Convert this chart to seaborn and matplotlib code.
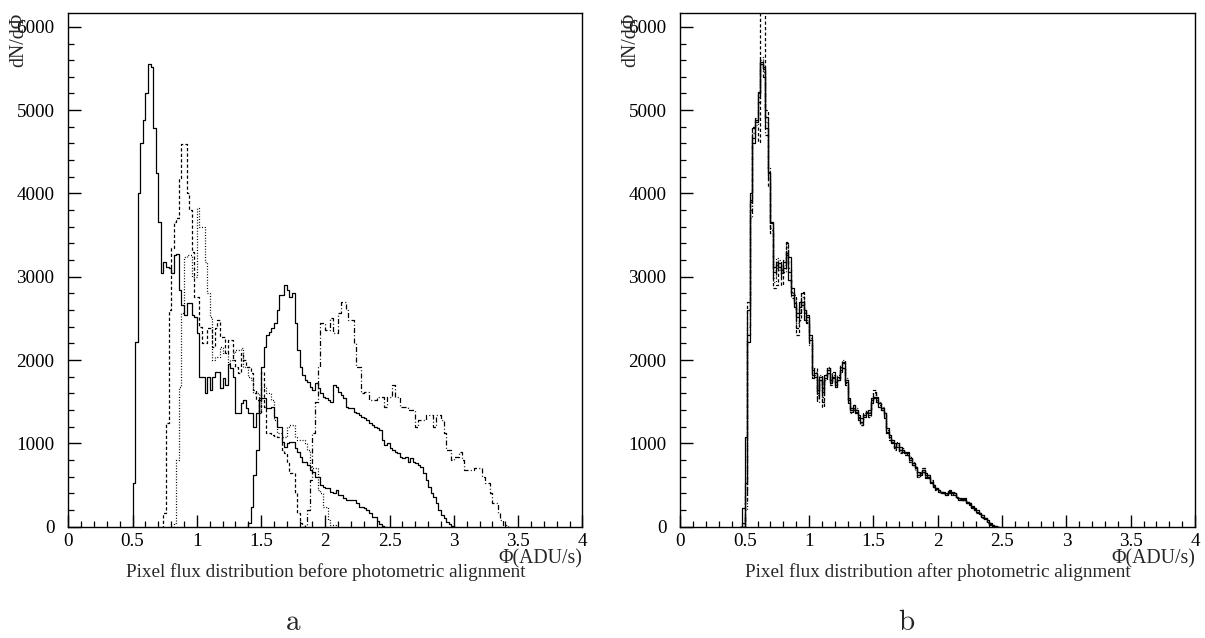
import numpy as np
import pandas as pd
import matplotlib
matplotlib.use("Agg")
import matplotlib.pyplot as plt
import seaborn as sns
from matplotlib.ticker import MultipleLocator

# --- binning (ROOT-style histograms, 0.02 ADU/s per bin) ---
bin_width = 0.02

# panel a: before photometric alignment
a_solid1_start = 0.48
a_solid1 = [0, 530, 2220, 4000, 4600, 4880, 5200, 5560, 5520, 4780, 4240,
            3660, 3040, 3180, 3120, 3100, 3050, 3260, 3270, 2840, 2660,
            2540, 2680, 2680, 2540, 2520, 2320, 1800, 1800, 1600, 1800,
            1640, 1800, 1860, 1860, 1660, 1780, 1700, 1950, 1900, 1800,
            1360, 1360, 1480, 1520, 1420, 1360, 1360, 1200, 1360, 1540,
            1540, 1540, 1420, 1420, 1440, 1320, 1200, 1200, 1020, 960,
            1000, 1020, 1020, 940, 900, 840, 780, 780, 740, 680,
            660, 600, 600, 500, 480, 460, 460, 420, 400, 440,
            380, 380, 340, 320, 320, 320, 320, 280, 240, 240,
            220, 200, 160, 120, 120, 70, 30, 10, 0]

a_dashed_start = 0.72
a_dashed = [0, 160, 1240, 2600, 3340, 3660, 3700, 4180, 4590, 4590, 4000,
            3800, 3300, 2760, 2760, 2400, 2200, 2200, 2380, 2380, 2160,
            2380, 2480, 2280, 2280, 2080, 2240, 2240, 2000, 1920, 1840,
            2080, 2000, 1920, 1920, 1840, 1640, 1520, 1360, 1860, 1440,
            1120, 1120, 1100, 1090, 1080, 1080, 920, 880, 760, 640,
            640, 400, 160, 40, 0]

a_dotted_start = 0.80
a_dotted = [0, 40, 800, 1680, 2560, 3240, 3260, 3260, 3000, 3000, 3820,
            3600, 3600, 3180, 2800, 2520, 2000, 2040, 2040, 2160, 2080,
            2080, 1960, 2000, 2080, 2120, 2120, 2140, 1920, 1920, 1800,
            1760, 1600, 1600, 1360, 1680, 1680, 1600, 1600, 1520, 1280,
            1120, 1120, 1080, 1080, 1200, 1220, 1220, 1080, 1040, 1040,
            1040, 1000, 920, 720, 700, 700, 440, 400, 240, 240,
            80, 20, 20, 0]

a_solid2_start = 1.38
a_solid2 = [0, 40, 240, 620, 920, 1520, 1920, 2160, 2300, 2340, 2380,
            2440, 2600, 2780, 2780, 2900, 2840, 2760, 2800, 2440, 2120,
            1920, 1820, 1760, 1740, 1680, 1640, 1720, 1660, 1600, 1560,
            1540, 1520, 1500, 1700, 1680, 1620, 1580, 1540, 1440, 1420,
            1420, 1380, 1360, 1340, 1320, 1300, 1280, 1240, 1220, 1200,
            1180, 1160, 1040, 980, 1000, 940, 920, 900, 880, 840,
            820, 840, 780, 820, 780, 760, 740, 720, 640, 560,
            480, 400, 360, 280, 200, 140, 100, 60, 30, 10, 0]

a_dashdot_start = 1.82
a_dashdot = [0, 20, 200, 560, 1120, 1500, 1920, 2440, 2440, 2360, 2360,
             2500, 2320, 2320, 2560, 2700, 2700, 2600, 2480, 2480, 2200,
             1920, 1920, 1600, 1620, 1620, 1520, 1520, 1520, 1560, 1560,
             1560, 1440, 1560, 1560, 1700, 1560, 1560, 1440, 1440, 1440,
             1400, 1400, 1400, 1200, 1280, 1280, 1280, 1340, 1340, 1340,
             1200, 1340, 1340, 1280, 1120, 920, 920, 800, 840, 840,
             900, 800, 680, 680, 680, 680, 700, 700, 700, 600,
             520, 520, 400, 280, 280, 160, 80, 20, 20, 0]

# panel b: after photometric alignment (all start at 0.46)
b_start = 0.46
b_solid1 = [0, 40, 520, 2220, 3920, 4660, 4860, 5200, 5580, 5520, 4920,
            4260, 3660, 3120, 3180, 3120, 3040, 3180, 3260, 2960, 2780,
            2680, 2560, 2640, 2700, 2600, 2520, 2240, 1880, 1840, 1600,
            1800, 1620, 1780, 1880, 1760, 1800, 1680, 1800, 1880, 1960,
            1760, 1540, 1400, 1420, 1380, 1320, 1260, 1340, 1380, 1360,
            1480, 1540, 1540, 1480, 1420, 1360, 1180, 1080, 1000, 960,
            1000, 920, 900, 880, 880, 820, 760, 700, 620, 640,
            680, 620, 600, 540, 500, 460, 420, 420, 400, 400,
            420, 400, 400, 360, 320, 340, 320, 300, 280, 240,
            200, 180, 160, 120, 100, 60, 30, 15, 5, 0]
b_solid2 = [0, 220, 1080, 2600, 4000, 4600, 4880, 5220, 5560, 5500, 4780,
            4240, 3640, 3060, 3140, 3160, 3080, 3100, 3280, 3240, 2860,
            2640, 2520, 2700, 2660, 2480, 2540, 2300, 1820, 1800, 1640,
            1760, 1660, 1820, 1840, 1720, 1780, 1740, 1760, 1920, 1900,
            1740, 1480, 1420, 1460, 1360, 1340, 1300, 1320, 1360, 1400,
            1520, 1560, 1500, 1440, 1400, 1300, 1120, 1100, 1040, 1000,
            960, 960, 920, 900, 860, 800, 740, 720, 660, 620,
            660, 640, 580, 520, 480, 460, 440, 420, 420, 380,
            400, 420, 380, 360, 340, 320, 330, 300, 260, 250,
            220, 200, 170, 140, 110, 80, 50, 25, 10, 0]
b_dashed = [0, 0, 300, 2700, 3900, 4800, 4800, 4620, 6600, 6500, 5000,
            4080, 3520, 2860, 2900, 3120, 2900, 3200, 3420, 3100, 2820,
            2780, 2300, 2480, 2820, 2560, 2440, 2200, 1820, 1900, 1540,
            1760, 1440, 1820, 1900, 1700, 1860, 1720, 1780, 1940, 1980,
            1700, 1520, 1380, 1460, 1400, 1300, 1220, 1360, 1400, 1320,
            1540, 1640, 1560, 1460, 1400, 1340, 1140, 1040, 1020, 920,
            1000, 880, 940, 860, 900, 780, 740, 720, 600, 660,
            700, 580, 620, 560, 480, 440, 440, 400, 420, 380,
            440, 380, 420, 340, 340, 320, 340, 280, 290, 230,
            210, 170, 170, 110, 110, 50, 40, 10, 0, 0]
b_dotted = [0, 0, 200, 2400, 3800, 4720, 4820, 5160, 5640, 5460, 4860,
            4300, 3580, 2940, 3220, 3080, 3140, 3060, 3360, 3180, 2800,
            2720, 2440, 2600, 2760, 2580, 2480, 2260, 1840, 1860, 1580,
            1820, 1560, 1760, 1920, 1740, 1820, 1700, 1820, 1900, 2000,
            1780, 1500, 1420, 1400, 1420, 1300, 1240, 1360, 1360, 1380,
            1500, 1600, 1520, 1500, 1440, 1380, 1160, 1060, 1040, 940,
            1020, 900, 920, 900, 860, 840, 780, 680, 640, 620,
            700, 600, 600, 540, 500, 450, 430, 410, 410, 390,
            430, 390, 410, 350, 330, 330, 320, 290, 280, 230,
            210, 180, 150, 120, 90, 60, 30, 10, 0, 0]
b_dashdot = [0, 0, 400, 2300, 3700, 4780, 4900, 5100, 5600, 5400, 4700,
             4180, 3560, 2980, 3100, 3200, 3000, 3140, 3400, 3060, 2740,
             2700, 2380, 2560, 2800, 2600, 2460, 2180, 1780, 1820, 1500,
             1760, 1500, 1800, 1900, 1720, 1840, 1700, 1760, 1860, 1980,
             1720, 1520, 1360, 1440, 1400, 1280, 1220, 1340, 1380, 1340,
             1520, 1620, 1540, 1480, 1420, 1360, 1140, 1060, 1020, 960,
             980, 920, 900, 880, 880, 820, 760, 700, 600, 640,
             680, 600, 620, 540, 490, 450, 420, 420, 400, 390,
             430, 400, 400, 350, 330, 330, 320, 290, 270, 240,
             200, 180, 150, 120, 90, 50, 25, 10, 0, 0]

x_ticks = [0, 0.5, 1, 1.5, 2, 2.5, 3, 3.5, 4]
x_tick_labels = ["0", "0.5", "1", "1.5", "2", "2.5", "3", "3.5", "4"]
y_ticks = [0, 1000, 2000, 3000, 4000, 5000, 6000]
y_tick_labels = ["0", "1000", "2000", "3000", "4000", "5000", "6000"]

captions = ["Pixel flux distribution before photometric alignment",
            "Pixel flux distribution after photometric alignment"]
panel_tags = ["a", "b"]

sns.set_style("white")
plt.rcParams["font.family"] = ["Liberation Serif", "DejaVu Serif"]
plt.rcParams["mathtext.fontset"] = "cm"

SOLID = "-"
DASHED = (0, (2.6, 1.8))
DOTTED = (0, (0.8, 1.4))
DASHDOT = (0, (4, 1.8, 0.8, 1.8))


def draw_hist(ax, start, values, ls, lw=0.9):
    values = np.asarray(values, dtype=float)
    edges = start + bin_width * np.arange(len(values) + 1)
    centers = 0.5 * (edges[:-1] + edges[1:])
    df = pd.DataFrame({"phi": centers, "n": values})
    # bins as a plain list: seaborn compares bins to "auto" when weights are used
    sns.histplot(data=df, x="phi", weights="n", bins=edges.tolist(),
                 element="step", fill=False, color="black", linewidth=lw,
                 linestyle=ls, ax=ax)


def style_axes(ax, caption):
    ax.set_xlim(0, 4)
    ax.set_ylim(0, 6170)
    ax.set_xticks(x_ticks, x_tick_labels)
    ax.set_yticks(y_ticks, y_tick_labels)
    ax.xaxis.set_minor_locator(MultipleLocator(0.1))
    ax.yaxis.set_minor_locator(MultipleLocator(200))
    ax.tick_params(which="both", direction="in", top=False, right=False,
                   left=True, bottom=True, colors="black", labelsize=13.8)
    ax.tick_params(which="major", length=9, width=1.0)
    ax.tick_params(which="minor", length=4.5, width=0.9)
    ax.tick_params(axis="y", pad=10)
    ax.tick_params(axis="x", pad=4.5)
    for sp in ax.spines.values():
        sp.set_color("black")
        sp.set_linewidth(1.0)
    ax.set_xlabel("")
    ax.set_ylabel("")
    ax.text(1.0, -0.0726, "\u03a6(ADU/s)", transform=ax.transAxes,
            ha="right", va="baseline", fontsize=14.2)
    ax.text(-0.097, 1.0, "dN/d\u03a6", transform=ax.transAxes, rotation=90,
            ha="center", va="top", fontsize=14.2)
    ax.text(0.5, -0.098, caption, transform=ax.transAxes,
            ha="center", va="baseline", fontsize=13.8)


fig = plt.figure(figsize=(12.05, 6.38), dpi=100)
ax_a = fig.add_axes([0.0567, 0.1745, 0.4266, 0.8056])
ax_b = fig.add_axes([0.5646, 0.1745, 0.4271, 0.8056])

draw_hist(ax_a, a_solid1_start, a_solid1, SOLID)
draw_hist(ax_a, a_dashed_start, a_dashed, DASHED)
draw_hist(ax_a, a_dotted_start, a_dotted, DOTTED)
draw_hist(ax_a, a_solid2_start, a_solid2, SOLID)
draw_hist(ax_a, a_dashdot_start, a_dashdot, DASHDOT)

draw_hist(ax_b, b_start, b_solid2, SOLID)
draw_hist(ax_b, b_start, b_dashed, DASHED)
draw_hist(ax_b, b_start, b_dotted, DOTTED)
draw_hist(ax_b, b_start, b_dashdot, DASHDOT)
draw_hist(ax_b, b_start, b_solid1, SOLID)

style_axes(ax_a, captions[0])
style_axes(ax_b, captions[1])

fig.text(0.2432, 0.0125, r"$\mathrm{%s}$" % panel_tags[0], ha="center",
         va="baseline", fontsize=21)
fig.text(0.7525, 0.0125, r"$\mathrm{%s}$" % panel_tags[1], ha="center",
         va="baseline", fontsize=21)

fig.savefig("out.png", dpi=100)
